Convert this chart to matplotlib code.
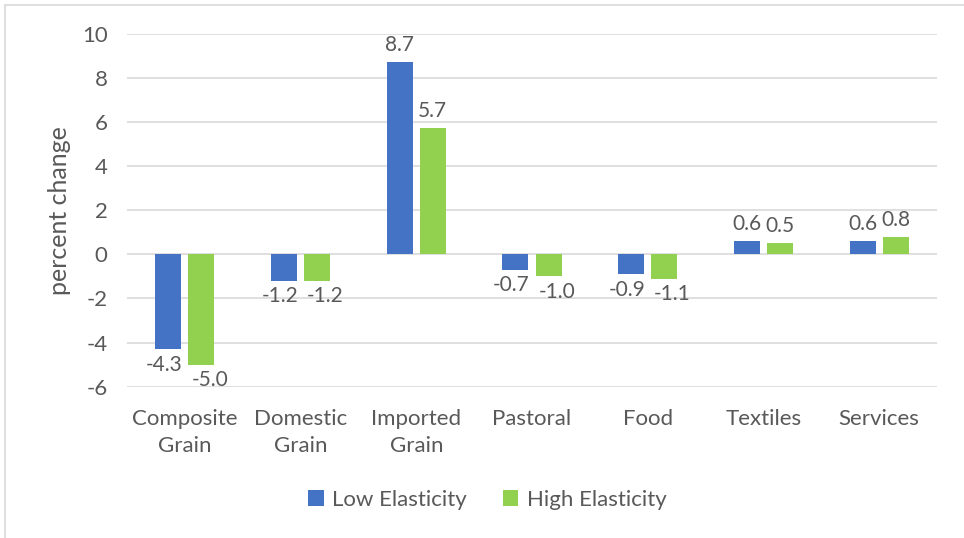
import matplotlib
matplotlib.use("Agg")
import matplotlib.pyplot as plt
import matplotlib.patches as mpatches
import numpy as np

categories = ["Composite\nGrain", "Domestic\nGrain", "Imported\nGrain",
              "Pastoral", "Food", "Textiles", "Services"]
low_elasticity = [-4.3, -1.2, 8.7, -0.7, -0.9, 0.6, 0.6]
high_elasticity = [-5.0, -1.2, 5.7, -1.0, -1.1, 0.5, 0.8]
series_names = ["Low Elasticity", "High Elasticity"]
y_ticks = [-6, -4, -2, 0, 2, 4, 6, 8, 10]

BLUE = "#4472C4"
GREEN = "#92D050"
TEXT = "#595959"
GRID = "#D9D9D9"
FS = 16

plt.rcParams["font.family"] = ["Lato", "DejaVu Sans"]
plt.rcParams["axes.unicode_minus"] = False

fig = plt.figure(figsize=(9.64, 5.38), dpi=100)
ax = fig.add_axes([0.1317, 0.2812, 0.8403, 0.6565])

# chart frame (cropped at right/bottom like the original)
fig.patches.append(mpatches.Rectangle((5 / 964, -0.05), 1.2, 1 - 5 / 538 + 0.05,
                                      transform=fig.transFigure, fill=False,
                                      edgecolor=GRID, linewidth=1.2))

x = np.arange(len(categories))
w = 0.225
off = 0.143
bars_lo = ax.bar(x - off, low_elasticity, w, color=BLUE, label=series_names[0], zorder=3)
bars_hi = ax.bar(x + off, high_elasticity, w, color=GREEN, label=series_names[1], zorder=3)

# negative labels sit slightly apart, as in the original
for bars, vals, nudge in ((bars_lo, low_elasticity, -3), (bars_hi, high_elasticity, 6)):
    for b, v in zip(bars, vals):
        cx = b.get_x() + b.get_width() / 2
        if v >= 0:
            ax.annotate(f"{v:.1f}", (cx, v), xytext=(0, 5), textcoords="offset points",
                        ha="center", va="bottom", fontsize=15, color=TEXT)
        else:
            ax.annotate(f"{v:.1f}", (cx, v), xytext=(nudge, -4), textcoords="offset points",
                        ha="center", va="top", fontsize=15, color=TEXT)

ax.set_xlim(-0.5, len(categories) - 0.5)
ax.set_ylim(-6, 10)
ax.set_yticks(y_ticks)
ax.set_xticks(x)
ax.set_xticklabels(categories, fontsize=FS, color=TEXT, linespacing=1.45)
ax.tick_params(axis="y", length=0, pad=14, labelsize=FS, labelcolor=TEXT)
ax.tick_params(axis="x", length=0, pad=16)
ax.grid(axis="y", color=GRID, linewidth=1.2, zorder=0)
for s in ax.spines.values():
    s.set_visible(False)
ax.set_ylabel("percent change", fontsize=18, color=TEXT, labelpad=8)

ax.legend(loc="center", bbox_to_anchor=(0.5 * (318 + 657) / 964, 1 - 500 / 538),
          bbox_transform=fig.transFigure, ncol=2, frameon=False, fontsize=FS,
          labelcolor=TEXT, handlelength=0.7, handleheight=0.7, handletextpad=0.4,
          columnspacing=1.6)

fig.savefig("out.png", dpi=100)
